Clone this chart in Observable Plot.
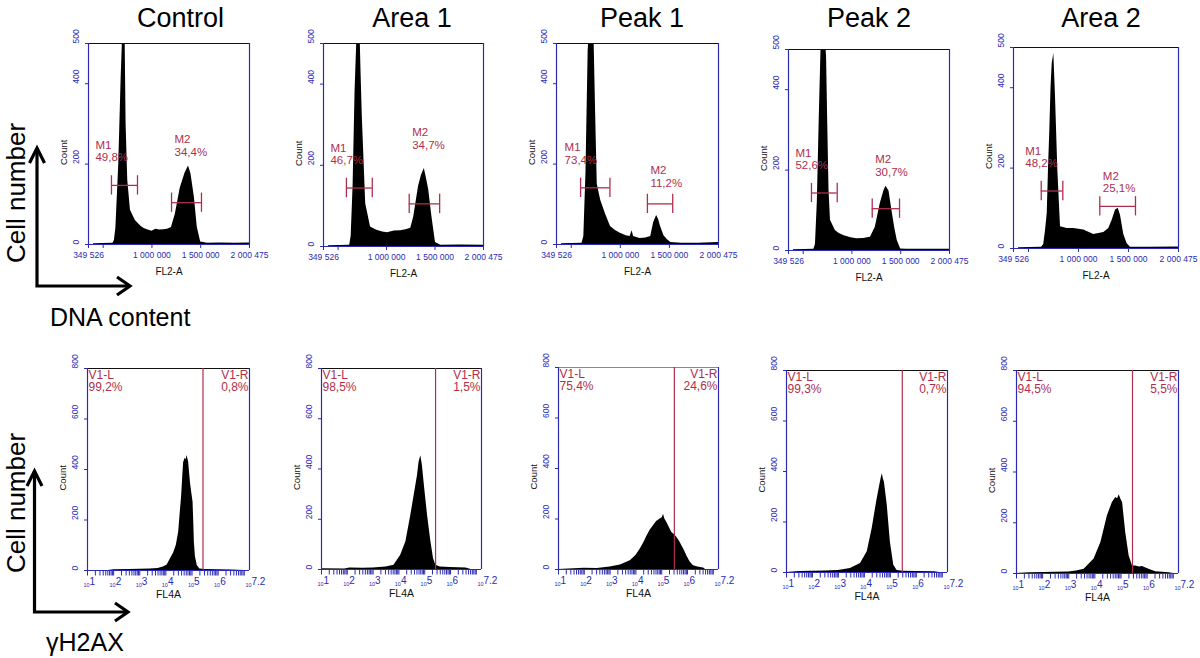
<!DOCTYPE html>
<html>
<head>
<meta charset="utf-8">
<script src="https://cdn.jsdelivr.net/npm/d3@7"></script>
<script src="https://cdn.jsdelivr.net/npm/@observablehq/plot@0.6"></script>
<style>
  html, body { margin: 0; padding: 0; background: #fff; }
  body { width: 1200px; height: 658px; position: relative; overflow: hidden; font-family: "Liberation Sans", Arial, sans-serif; }
  #page { position: absolute; left: 0; top: 0; }
  .panel { position: absolute; }
</style>
</head>
<body>
<svg id="page" width="1200" height="658"></svg>
<script>
// ---------------- data ----------------
const titles = ["Control", "Area 1", "Peak 1", "Peak 2", "Area 2"];

// DNA content histograms (FL2-A value, cell count)
const dnaXControl = [400000, 600000, 615000, 630000, 660000, 685000, 700000, 712000, 724000, 735000, 752000, 780000, 830000, 860000, 890000, 920000, 960000, 1000000, 1040000, 1080000, 1120000, 1160000, 1200000, 1240000, 1290000, 1340000, 1375000, 1400000, 1435000, 1465000, 1500000, 1570000, 1700000, 1850000, 2000000];
const dnaCountControl = [2, 3, 10, 40, 200, 420, 520, 560, 540, 300, 160, 85, 60, 52, 45, 40, 36, 33, 38, 36, 37, 38, 42, 75, 140, 178, 195, 176, 118, 43, 6, 3, 4, 3, 4];

const dnaXArea1 = [400000, 620000, 635000, 655000, 675000, 695000, 712000, 725000, 738000, 750000, 785000, 835000, 900000, 960000, 1010000, 1080000, 1145000, 1200000, 1250000, 1280000, 1330000, 1360000, 1390000, 1410000, 1435000, 1470000, 1505000, 1560000, 1750000, 2000000];
const dnaCountArea1 = [2, 3, 25, 150, 380, 520, 560, 540, 420, 320, 105, 48, 40, 36, 34, 38, 39, 41, 45, 72, 148, 175, 192, 170, 140, 70, 10, 3, 4, 3];

const dnaXPeak1 = [400000, 610000, 628000, 650000, 672000, 690000, 710000, 730000, 748000, 765000, 800000, 850000, 900000, 950000, 1000000, 1060000, 1100000, 1120000, 1135000, 1200000, 1260000, 1310000, 1340000, 1370000, 1390000, 1410000, 1445000, 1480000, 1515000, 1620000, 1800000, 2000000];
const dnaCountPeak1 = [2, 3, 20, 180, 480, 560, 560, 540, 330, 150, 110, 75, 45, 35, 28, 22, 20, 34, 20, 15, 16, 20, 55, 72, 62, 45, 22, 12, 5, 3, 3, 5];

const dnaXPeak2 = [400000, 610000, 626000, 645000, 665000, 685000, 705000, 725000, 740000, 752000, 765000, 780000, 830000, 870000, 920000, 990000, 1050000, 1120000, 1190000, 1240000, 1290000, 1330000, 1350000, 1380000, 1410000, 1440000, 1465000, 1500000, 1560000, 2000000];
const dnaCountPeak2 = [2, 3, 15, 120, 330, 520, 560, 540, 480, 315, 150, 75, 50, 42, 37, 32, 29, 30, 33, 58, 116, 150, 160, 148, 100, 55, 25, 4, 3, 3];

const dnaXArea2 = [400000, 630000, 652000, 670000, 687000, 700000, 713000, 725000, 737000, 753000, 770000, 793000, 820000, 887000, 953000, 1053000, 1153000, 1253000, 1303000, 1337000, 1370000, 1397000, 1420000, 1453000, 1487000, 1520000, 1700000, 2000000];
const dnaCountArea2 = [2, 3, 10, 45, 87, 200, 294, 400, 460, 485, 377, 195, 54, 50, 50, 46, 35, 40, 50, 70, 95, 100, 83, 35, 12, 3, 3, 4];

// gates on DNA histograms
const m1Lo = [585000, 586000, 595000, 585000, 627000];
const m1Hi = [852000, 853000, 894000, 849000, 843000];
const m1Level = [147, 144, 141, 143, 143];
const m2Lo = [1201000, 1234000, 1276000, 1208000, 1213000];
const m2Hi = [1508000, 1548000, 1534000, 1488000, 1570000];
const m2Level = [104, 105, 101, 104, 105];
const m1Pct = ["49,8%", "46,7%", "73,4%", "52,6%", "48,2%"];
const m2Pct = ["34,4%", "34,7%", "11,2%", "30,7%", "25,1%"];

// γH2AX histograms (log10 FL4-A, cell count)
const gExpControl = [1.0, 1.8, 2.0, 2.6, 3.0, 3.4, 3.7, 3.9, 4.05, 4.17, 4.3, 4.4, 4.49, 4.55, 4.6, 4.65, 4.68, 4.74, 4.78, 4.81, 4.87, 4.94, 5.0, 5.04, 5.07, 5.09, 5.13, 5.2, 5.3, 5.5, 6.0, 6.5, 7.0];
const gCountControl = [0, 0, 3, 4, 5, 6, 8, 14, 22, 46, 70, 100, 151, 230, 290, 380, 428, 445, 440, 455, 430, 348, 300, 270, 180, 112, 55, 20, 6, 4, 3, 2, 0];

const gExpArea1 = [1.0, 1.9, 2.1, 2.6, 3.0, 3.5, 3.81, 4.07, 4.27, 4.46, 4.59, 4.72, 4.78, 4.85, 4.91, 5.0, 5.11, 5.24, 5.34, 5.43, 5.6, 6.0, 6.6, 6.8];
const gCountArea1 = [3, 2, 6, 5, 6, 10, 17, 57, 110, 215, 295, 374, 427, 453, 414, 321, 215, 110, 44, 17, 10, 8, 6, 0];

const gExpPeak1 = [1.0, 1.8, 2.0, 2.5, 3.0, 3.4, 3.78, 4.0, 4.17, 4.3, 4.43, 4.55, 4.68, 4.8, 4.94, 5.02, 5.07, 5.12, 5.2, 5.3, 5.39, 5.5, 5.59, 5.7, 5.78, 5.88, 5.97, 6.1, 6.23, 6.4, 6.62, 6.7];
const gCountPeak1 = [0, 4, 5, 4, 10, 18, 35, 55, 81, 105, 133, 155, 173, 190, 200, 205, 219, 200, 186, 165, 147, 138, 127, 110, 94, 75, 54, 30, 15, 10, 6, 0];

const gExpPeak2 = [1.0, 1.5, 2.0, 2.5, 3.0, 3.46, 3.85, 4.11, 4.3, 4.47, 4.59, 4.65, 4.69, 4.73, 4.77, 4.88, 5.0, 5.13, 5.26, 5.5, 6.0, 6.7, 6.9];
const gCountPeak2 = [0, 4, 5, 6, 8, 16, 36, 82, 174, 279, 345, 375, 391, 370, 358, 266, 121, 29, 8, 5, 4, 3, 0];

const gExpArea2 = [1.0, 1.5, 2.0, 2.5, 3.0, 3.3, 3.59, 3.97, 4.23, 4.48, 4.67, 4.8, 4.87, 4.93, 5.0, 5.06, 5.18, 5.31, 5.44, 5.57, 5.7, 5.82, 6.07, 6.33, 6.85, 7.0];
const gCountArea2 = [0, 3, 4, 5, 6, 10, 17, 57, 122, 228, 280, 300, 295, 310, 292, 280, 162, 70, 30, 30, 26, 28, 17, 7, 3, 0];

// V1 gate (cut on FL4-A) and percentages
const v1Cut = [263000, 263000, 309000, 288000, 275000];
const v1LPct = ["99,2%", "98,5%", "75,4%", "99,3%", "94,5%"];
const v1RPct = ["0,8%", "1,5%", "24,6%", "0,7%", "5,5%"];

// axes
const dnaDomain = [349526, 2000475];
const dnaTicks = [349526, 500000, 1000000, 1500000, 2000475];
const dnaTickLabels = ["349 526", "", "1 000 000", "1 500 000", "2 000 475"];
const countTicksTop = [0, 200, 400, 500];
const countTicksBottom = [0, 200, 400, 600, 800];
const gDomainExp = [1, 7.2];
const gDecades = [1, 2, 3, 4, 5, 6, 7.2];

// ---------------- layout / style ----------------
const dnaX = [dnaXControl, dnaXArea1, dnaXPeak1, dnaXPeak2, dnaXArea2];
const dnaCount = [dnaCountControl, dnaCountArea1, dnaCountPeak1, dnaCountPeak2, dnaCountArea2];
const gExp = [gExpControl, gExpArea1, gExpPeak1, gExpPeak2, gExpArea2];
const gCount = [gCountControl, gCountArea1, gCountPeak1, gCountPeak2, gCountArea2];

const topFrames = [[88, 43, 161, 201], [323, 43, 160, 203], [556, 43, 162, 201], [788, 49, 161, 201], [1013, 47, 165, 201]];
const bottomFrames = [[87, 368, 162, 202], [321, 368, 160, 201], [558, 367, 160, 202], [786, 370, 161, 202], [1016, 370, 162, 203]];
const titleX = [180.5, 412, 642, 869, 1101];
const m2LabelDy = [-47, -55, -17, -33, -14];
const bottomTopStroke = ["#111", "#111", "#8a8a8a", "#111", "#111"];

const BLUE = "#2a2ab4";
const RED = "#ae2f4c";
const FONT = "'Liberation Sans', Arial, sans-serif";
const M = {l: 40, r: 16, t: 14, b: 36};

function place(svg, fr) {
  svg.classList.add("panel");
  svg.style.left = (fr[0] - M.l) + "px";
  svg.style.top = (fr[1] - M.t) + "px";
  document.body.appendChild(svg);
}

function topPanel(i) {
  const [fl, ft, fw, fh] = topFrames[i];
  const hist = dnaX[i].map((x, j) => ({x, c: dnaCount[i][j]}));
  const g1 = [{name: "M1", lo: m1Lo[i], hi: m1Hi[i], lev: m1Level[i], pct: m1Pct[i]}];
  const g2 = [{name: "M2", lo: m2Lo[i], hi: m2Hi[i], lev: m2Level[i], pct: m2Pct[i]}];
  const caps = [...g1, ...g2].flatMap(g => [{x: g.lo, lev: g.lev}, {x: g.hi, lev: g.lev}]);
  const svg = Plot.plot({
    width: M.l + fw + M.r, height: M.t + fh + M.b,
    marginLeft: M.l, marginRight: M.r, marginTop: M.t, marginBottom: M.b,
    x: {type: "linear", domain: dnaDomain, axis: null, label: null},
    y: {domain: [0, 500], axis: null, label: null},
    style: {background: "transparent", overflow: "visible", fontFamily: FONT},
    marks: [
      Plot.areaY(hist, {x: "x", y: "c", fill: "black", clip: true}),
      Plot.ruleY([500], {stroke: "#111", strokeWidth: 1.2}),
      Plot.ruleX(dnaDomain, {stroke: BLUE, strokeWidth: 1.2}),
      Plot.ruleY([0], {stroke: BLUE, strokeWidth: 1.2}),
      Plot.axisX(dnaTicks, {label: null, tickSize: 4, tickPadding: 3, tickFormat: d => dnaTickLabels[dnaTicks.indexOf(d)], color: BLUE, fontSize: 8.5}),
      Plot.axisY(countTicksTop, {label: null, tickSize: 3, tickFormat: () => "", color: BLUE}),
      Plot.text(countTicksTop, {y: d => d, frameAnchor: "left", text: d => String(d), rotate: -90, dx: -12, fill: BLUE, fontSize: 8.5}),
      Plot.text(["Count"], {frameAnchor: "left", text: d => d, rotate: -90, dx: -25, dy: 21, fontSize: 9.5, fill: "#111"}),
      Plot.text(["FL2-A"], {frameAnchor: "bottom", text: d => d, lineAnchor: "top", dy: 23, fontSize: 10, fill: "#111"}),
      Plot.ruleY([...g1, ...g2], {y: "lev", x1: "lo", x2: "hi", stroke: RED, strokeWidth: 1.3}),
      Plot.ruleX(caps, {x: "x", y1: d => d.lev - 24, y2: d => d.lev + 24, stroke: RED, strokeWidth: 1.3}),
      Plot.text(g1, {x: "lo", y: "lev", text: d => d.name + "\n" + d.pct, textAnchor: "start", lineAnchor: "bottom", dx: -16, dy: -24, fill: RED, fontSize: 11.5, lineHeight: 1.08}),
      Plot.text(g2, {x: "lo", y: "lev", text: d => d.name + "\n" + d.pct, textAnchor: "start", lineAnchor: "bottom", dx: 3, dy: m2LabelDy[i], fill: RED, fontSize: 11.5, lineHeight: 1.08})
    ]
  });
  place(svg, topFrames[i]);
}

function bottomPanel(i) {
  const [fl, ft, fw, fh] = bottomFrames[i];
  const hist = gExp[i].map((e, j) => ({x: 10 ** e, c: gCount[i][j]}));
  const dom = gDomainExp.map(e => 10 ** e);
  const minorTicks = d3.scaleLog().domain(dom).ticks();
  const svg = Plot.plot({
    width: M.l + fw + M.r, height: M.t + fh + M.b,
    marginLeft: M.l, marginRight: M.r, marginTop: M.t, marginBottom: M.b,
    x: {type: "log", domain: dom, axis: null, label: null},
    y: {domain: [0, 800], axis: null, label: null},
    style: {background: "transparent", overflow: "visible", fontFamily: FONT},
    marks: [
      Plot.areaY(hist, {x: "x", y: "c", fill: "black", clip: true}),
      Plot.ruleY([800], {stroke: bottomTopStroke[i], strokeWidth: 1.2}),
      Plot.ruleX(dom, {stroke: BLUE, strokeWidth: 1.2}),
      Plot.ruleY([0], {stroke: BLUE, strokeWidth: 1.2}),
      Plot.axisX(minorTicks, {label: null, tickSize: 5.5, tickFormat: () => "", color: BLUE}),
      Plot.text(gDecades, {x: d => 10 ** d, frameAnchor: "bottom", text: () => "10", textAnchor: "end", lineAnchor: "bottom", dx: 2, dy: 16, fontSize: 5.5, fill: BLUE}),
      Plot.text(gDecades, {x: d => 10 ** d, frameAnchor: "bottom", text: d => String(d), textAnchor: "start", lineAnchor: "bottom", dx: 2, dy: 14, fontSize: 10, fill: BLUE}),
      Plot.axisY(countTicksBottom, {label: null, tickSize: 3, tickFormat: () => "", color: BLUE}),
      Plot.text(countTicksBottom, {y: d => d, frameAnchor: "left", text: d => String(d), rotate: -90, dx: -12, fill: BLUE, fontSize: 8.5}),
      Plot.text(["Count"], {frameAnchor: "left", text: d => d, rotate: -90, dx: -25, dy: 21, fontSize: 9.5, fill: "#111"}),
      Plot.text(["FL4A"], {frameAnchor: "bottom", text: d => d, lineAnchor: "top", dy: 20, fontSize: 10.5, fill: "#111"}),
      Plot.ruleX([v1Cut[i]], {stroke: RED, strokeWidth: 1.2}),
      Plot.text(["V1-L\n" + v1LPct[i]], {frameAnchor: "top-left", text: d => d, textAnchor: "start", lineAnchor: "top", dx: 1, dy: 2, fill: RED, fontSize: 12, lineHeight: 1.0}),
      Plot.text(["V1-R\n" + v1RPct[i]], {frameAnchor: "top-right", text: d => d, textAnchor: "end", lineAnchor: "top", dx: -1, dy: 2, fill: RED, fontSize: 12, lineHeight: 1.0})
    ]
  });
  place(svg, bottomFrames[i]);
}

// ---------------- page decorations ----------------
const page = d3.select("#page");
page.selectAll("text.title").data(titles).join("text")
  .attr("class", "title")
  .attr("x", (d, i) => titleX[i]).attr("y", 26.7)
  .attr("text-anchor", "middle")
  .attr("font-family", "'Liberation Sans', Arial, sans-serif")
  .attr("font-size", 27).attr("fill", "#000")
  .text(d => d);

const sideLabels = [{y: 193, axis: "DNA content", ay: 326, ax: 50}, {y: 503, axis: "γH2AX", ay: 651, ax: 46}];
sideLabels.forEach(s => {
  page.append("text")
    .attr("transform", `translate(25,${s.y}) rotate(-90)`)
    .attr("text-anchor", "middle")
    .attr("font-family", "'Liberation Sans', Arial, sans-serif")
    .attr("font-size", 26).text("Cell number");
  page.append("text")
    .attr("x", s.ax).attr("y", s.ay)
    .attr("font-family", "'Liberation Sans', Arial, sans-serif")
    .attr("font-size", 25).text(s.axis);
});

const arrows = [
  {x0: 37, y0: 286, top: 147, right: 130},
  {x0: 34.5, y0: 612, top: 470, right: 128}
];
arrows.forEach(a => {
  const g = page.append("g").attr("fill", "none").attr("stroke", "#000").attr("stroke-width", 3.2)
    .attr("stroke-linejoin", "miter").attr("stroke-linecap", "butt");
  g.append("path").attr("d", `M${a.x0},${a.y0 + 1.5}V${a.top + 1}M${a.x0 - 1.5},${a.y0}H${a.right - 1}`);
  g.append("path").attr("d", `M${a.x0 - 7.5},${a.top + 16}L${a.x0},${a.top + 1}L${a.x0 + 7.5},${a.top + 16}`);
  g.append("path").attr("d", `M${a.right - 13},${a.y0 - 9}L${a.right},${a.y0}L${a.right - 13},${a.y0 + 9}`);
});

for (let i = 0; i < 5; i++) { topPanel(i); bottomPanel(i); }
</script>
</body>
</html>
